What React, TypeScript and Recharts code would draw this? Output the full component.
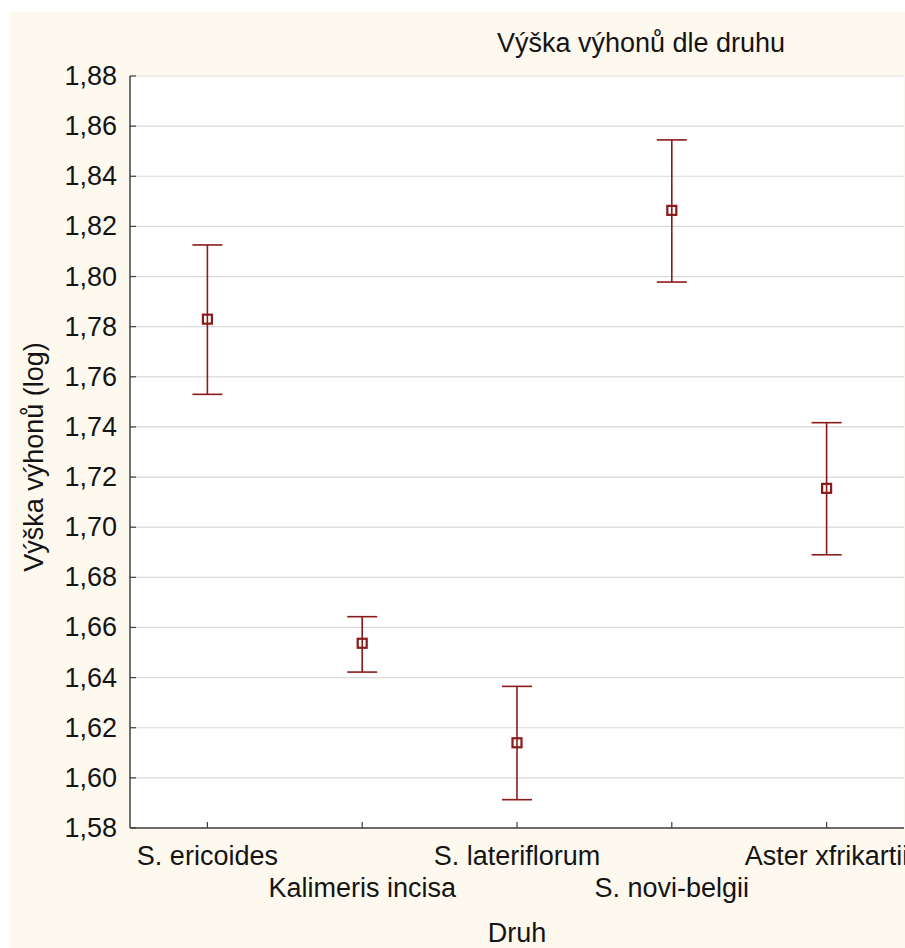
import React from "react";
import { ComposedChart, Scatter, ErrorBar, XAxis, YAxis, CartesianGrid } from "recharts";

// ── Data (means with 95% CI bounds) ──────────────────────────────────────────

const species = ["S. ericoides", "Kalimeris incisa", "S. lateriflorum", "S. novi-belgii", "Aster xfrikartii"];
const means = [1.783, 1.6537, 1.614, 1.8264, 1.7155];
const lowerCI = [1.753, 1.6422, 1.5913, 1.7978, 1.689];
const upperCI = [1.8126, 1.6643, 1.6365, 1.8545, 1.7417];
const yTicks = [1.58, 1.6, 1.62, 1.64, 1.66, 1.68, 1.7, 1.72, 1.74, 1.76, 1.78, 1.8, 1.82, 1.84, 1.86, 1.88];

const data = species.map((name, i) => ({
  name,
  mean: means[i],
  err: [means[i] - lowerCI[i], upperCI[i] - means[i]],
}));

// ── Styles ───────────────────────────────────────────────────────────────────

const FONT = "'Liberation Sans', Arial, sans-serif";
const FS = 27;
const INK = "#141414";
const RED = "#8b1a1a";
const AXIS = "#404040";
const CREAM = "#fef9ef";
const W = 895;
const H = 936;
const HALF_BAND = 77.4; // half a category band, so points sit in band centres

const fmt = (v: number) => v.toFixed(2).replace(".", ",");

function LeftTick({ x, y, payload }: any) {
  return (
    <g>
      <line x1={x} x2={x + 6} y1={y} y2={y} stroke={AXIS} strokeWidth={1.2} />
      <text x={x - 13} y={y + 9} textAnchor="end" fontSize={FS} fontFamily={FONT} fill={INK}>
        {fmt(payload.value)}
      </text>
    </g>
  );
}

function RightTick({ x, y }: any) {
  return <line x1={x - 6} x2={x} y1={y} y2={y} stroke={AXIS} strokeWidth={1.2} />;
}

function TopTick({ x, y }: any) {
  return <line x1={x} x2={x} y1={y} y2={y + 6} stroke={AXIS} strokeWidth={1.2} />;
}

function BottomTick({ x, y, payload, index }: any) {
  return (
    <g>
      <line x1={x} x2={x} y1={y - 6} y2={y} stroke={AXIS} strokeWidth={1.2} />
      <text x={x} y={y + (index % 2 === 0 ? 37 : 69)} textAnchor="middle" fontSize={FS} fontFamily={FONT} fill={INK}>
        {payload.value}
      </text>
    </g>
  );
}

function SquareMarker({ cx, cy }: any) {
  return <rect x={cx - 4.5} y={cy - 4.5} width={9} height={9} fill="none" stroke={RED} strokeWidth={2.2} />;
}

export default function App() {
  return (
    <div style={{ position: "fixed", left: 10, top: 12, width: W, height: H, background: CREAM }}>
      <ComposedChart width={W} height={H} data={data} margin={{ top: 64, right: 1, bottom: 20, left: 0 }}>
        <CartesianGrid vertical={false} stroke="#d9d9d9" strokeWidth={1.2} fill="#fff" />
        <XAxis
          dataKey="name"
          type="category"
          height={100}
          interval={0}
          padding={{ left: HALF_BAND, right: HALF_BAND }}
          tickSize={0}
          tickMargin={0}
          axisLine={{ stroke: AXIS, strokeWidth: 1.5 }}
          tickLine={false}
          tick={<BottomTick />}
        />
        <XAxis
          xAxisId="top"
          orientation="top"
          dataKey="name"
          type="category"
          height={0}
          interval={0}
          padding={{ left: HALF_BAND, right: HALF_BAND }}
          tickSize={0}
          tickMargin={0}
          axisLine={{ stroke: AXIS, strokeWidth: 1.5 }}
          tickLine={false}
          tick={<TopTick />}
        />
        <YAxis
          type="number"
          domain={[1.58, 1.88]}
          ticks={yTicks}
          interval={0}
          width={120}
          tickSize={0}
          tickMargin={0}
          axisLine={{ stroke: AXIS, strokeWidth: 1.5 }}
          tickLine={false}
          tick={<LeftTick />}
        />
        <YAxis
          yAxisId="r"
          orientation="right"
          type="number"
          domain={[1.58, 1.88]}
          ticks={yTicks}
          interval={0}
          width={0}
          tickSize={0}
          tickMargin={0}
          axisLine={{ stroke: AXIS, strokeWidth: 1.5 }}
          tickLine={false}
          tick={<RightTick />}
        />
        <Scatter
          xAxisId="top"
          yAxisId="r"
          dataKey="mean"
          shape={() => <g />}
          isAnimationActive={false}
        />
        <Scatter dataKey="mean" shape={<SquareMarker />} isAnimationActive={false}>
          <ErrorBar dataKey="err" direction="y" width={15} stroke={RED} strokeWidth={1.6} />
        </Scatter>
      </ComposedChart>
      <svg width={W} height={H} style={{ position: "absolute", left: 0, top: 0, pointerEvents: "none" }}>
        <text x={631} y={40} textAnchor="middle" fontSize={FS} fontFamily={FONT} fill={INK}>
          Výška výhonů dle druhu
        </text>
        <text x={507} y={930} textAnchor="middle" fontSize={FS} fontFamily={FONT} fill={INK}>
          Druh
        </text>
        <text
          x={33}
          y={445}
          transform="rotate(-90 33 445)"
          textAnchor="middle"
          fontSize={FS}
          fontFamily={FONT}
          fill={INK}
        >
          Výška výhonů (log)
        </text>
      </svg>
    </div>
  );
}
